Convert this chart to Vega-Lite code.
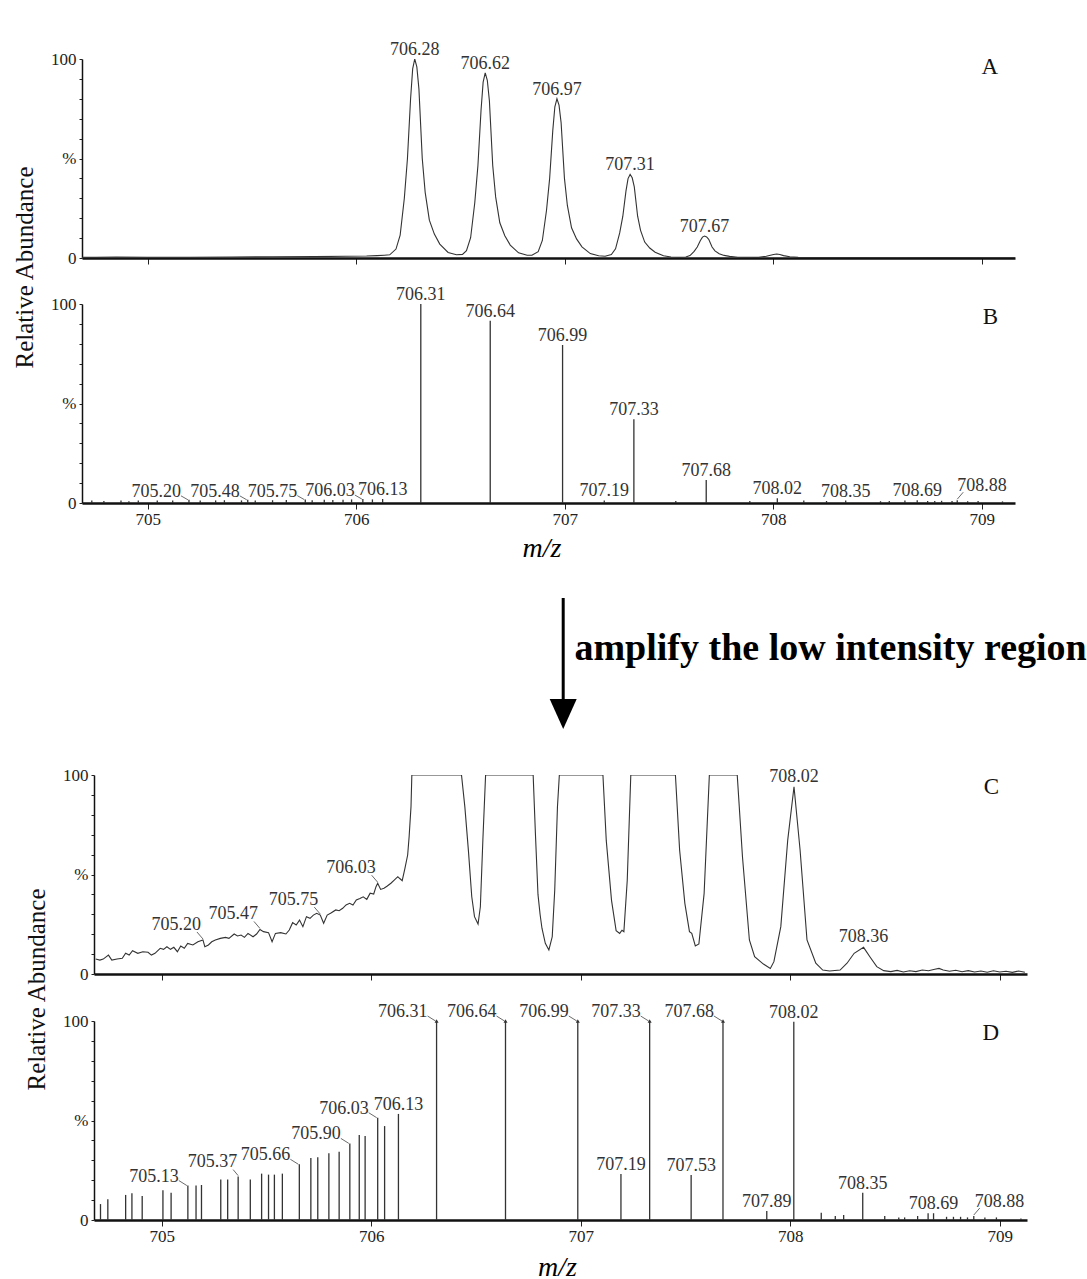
{
  "$schema": "https://vega.github.io/schema/vega-lite/v6.json",
  "background": "white",
  "padding": {"left": 12, "top": 41, "right": 3, "bottom": 3},
  "config": {
    "view": {"stroke": null},
    "font": "Liberation Serif",
    "title": {"font": "Liberation Serif", "fontSize": 23, "fontWeight": "normal", "color": "#111", "anchor": "end", "frame": "group", "offset": 0, "baseline": "middle"},
    "axis": {"labelFont": "Liberation Serif", "titleFont": "Liberation Serif", "labelColor": "#222", "titleColor": "#111", "domainColor": "#111", "tickColor": "#222", "grid": false, "labelFontSize": 17, "titleFontWeight": "normal", "labelOverlap": false},
    "axisX": {"domainWidth": 2.5, "tickSize": 6, "tickWidth": 1, "labelPadding": 2},
    "axisY": {"domainWidth": 1.5, "tickSize": 3, "tickWidth": 1, "labelPadding": 3}
  },
  "datasets": {
    "A": [
      {"mz":704.685,"int":0.3},{"mz":704.75,"int":0.3},{"mz":704.85,"int":0.5},{"mz":705.0,"int":0.4},{"mz":705.2,"int":0.4},{"mz":705.4,"int":0.5},{"mz":705.6,"int":0.6},{"mz":705.8,"int":0.7},{"mz":705.95,"int":0.9},{"mz":706.05,"int":1.0},{"mz":706.1,"int":1.2},{"mz":706.135,"int":1.4},{"mz":706.161,"int":1.6},{"mz":706.191,"int":4.5},{"mz":706.211,"int":11.5},{"mz":706.231,"int":30},{"mz":706.246,"int":50},{"mz":706.261,"int":80},{"mz":706.271,"int":95},{"mz":706.281,"int":100,"label":"706.28"},{"mz":706.291,"int":96},{"mz":706.301,"int":85},{"mz":706.317,"int":50},{"mz":706.331,"int":33},{"mz":706.351,"int":19},{"mz":706.375,"int":12},{"mz":706.401,"int":7},{"mz":706.441,"int":2.8},{"mz":706.481,"int":1.6},
      {"mz":706.51,"int":1.8},{"mz":706.529,"int":3.7},{"mz":706.549,"int":10.2},{"mz":706.569,"int":27.9},{"mz":706.584,"int":46.5},{"mz":706.599,"int":74.4},{"mz":706.609,"int":88.4},{"mz":706.619,"int":93,"label":"706.62"},{"mz":706.629,"int":89.3},{"mz":706.639,"int":79},{"mz":706.655,"int":46.5},{"mz":706.669,"int":30.7},{"mz":706.689,"int":17.7},{"mz":706.713,"int":11.2},{"mz":706.739,"int":6.5},{"mz":706.779,"int":2.6},{"mz":706.82,"int":1.4},
      {"mz":706.843,"int":1.4},{"mz":706.873,"int":3.2},{"mz":706.893,"int":8.8},{"mz":706.913,"int":24},{"mz":706.928,"int":40},{"mz":706.943,"int":64},{"mz":706.953,"int":76},{"mz":706.963,"int":80,"label":"706.97"},{"mz":706.973,"int":76.8},{"mz":706.983,"int":68},{"mz":706.999,"int":40},{"mz":707.013,"int":26.4},{"mz":707.033,"int":15.2},{"mz":707.057,"int":9.6},{"mz":707.083,"int":5.6},{"mz":707.123,"int":2.2},{"mz":707.163,"int":1.1},
      {"mz":707.194,"int":0.9},{"mz":707.224,"int":1.7},{"mz":707.244,"int":4.6},{"mz":707.264,"int":12.6},{"mz":707.279,"int":21},{"mz":707.294,"int":33.6},{"mz":707.304,"int":39.9},{"mz":707.314,"int":42,"label":"707.31"},{"mz":707.324,"int":40.3},{"mz":707.334,"int":35.7},{"mz":707.35,"int":21},{"mz":707.364,"int":13.9},{"mz":707.384,"int":8},{"mz":707.408,"int":5},{"mz":707.434,"int":2.9},{"mz":707.474,"int":1.1},{"mz":707.51,"int":0.5},
      {"mz":707.551,"int":0.4},{"mz":707.581,"int":0.5},{"mz":707.601,"int":1.2},{"mz":707.621,"int":3.3},{"mz":707.636,"int":5.5},{"mz":707.651,"int":8.8},{"mz":707.661,"int":10.5},{"mz":707.671,"int":11,"label":"707.67"},{"mz":707.681,"int":10.6},{"mz":707.691,"int":9.4},{"mz":707.707,"int":5.5},{"mz":707.721,"int":3.6},{"mz":707.741,"int":2.1},{"mz":707.765,"int":1.3},{"mz":707.791,"int":0.8},{"mz":707.831,"int":0.4},
      {"mz":707.93,"int":0.3},{"mz":707.967,"int":0.9},{"mz":707.987,"int":1.4},{"mz":708.002,"int":1.8},{"mz":708.017,"int":2.0},{"mz":708.032,"int":1.8},{"mz":708.05,"int":1.2},{"mz":708.08,"int":0.6},{"mz":708.12,"int":0.3},{"mz":708.18,"int":0.2},{"mz":708.4,"int":0.2},{"mz":708.6,"int":0.1},{"mz":708.8,"int":0.2},{"mz":709.0,"int":0.1},{"mz":709.16,"int":0.1}
    ],
    "B": [
      {"mz":704.732,"int":1.2},{"mz":704.79,"int":1.0},{"mz":704.872,"int":1.2},{"mz":704.91,"int":0.9},{"mz":704.955,"int":1.2},{"mz":705.046,"int":1.3},{"mz":705.12,"int":1.2},{"mz":705.198,"int":1.6,"label":"705.20"},{"mz":705.252,"int":1.2},{"mz":705.326,"int":1.3},{"mz":705.368,"int":1.4},{"mz":705.45,"int":1.3},{"mz":705.48,"int":1.6,"label":"705.48"},{"mz":705.516,"int":1.3},{"mz":705.599,"int":1.4},{"mz":705.665,"int":1.5},{"mz":705.756,"int":1.7,"label":"705.75"},{"mz":705.789,"int":1.4},{"mz":705.847,"int":1.6},{"mz":705.888,"int":1.5},{"mz":705.937,"int":1.6},{"mz":705.978,"int":1.8},{"mz":706.032,"int":2.0,"label":"706.03"},{"mz":706.078,"int":1.8},{"mz":706.127,"int":2.0,"label":"706.13"},
      {"mz":706.31,"int":100,"label":"706.31"},{"mz":706.643,"int":91.6,"label":"706.64"},{"mz":706.99,"int":79.4,"label":"706.99"},{"mz":707.19,"int":1.3,"label":"707.19"},{"mz":707.332,"int":42.1,"label":"707.33"},{"mz":707.533,"int":1.0},{"mz":707.679,"int":11.6,"label":"707.68"},{"mz":707.888,"int":1.0},{"mz":708.02,"int":2.4,"label":"708.02"},{"mz":708.147,"int":1.2},{"mz":708.256,"int":1.0},{"mz":708.348,"int":1.2,"label":"708.35"},{"mz":708.515,"int":0.9},{"mz":708.557,"int":1.0},{"mz":708.632,"int":1.2},{"mz":708.691,"int":1.4,"label":"708.69"},{"mz":708.741,"int":1.0},{"mz":708.775,"int":1.0},{"mz":708.808,"int":1.1},{"mz":708.858,"int":1.0},{"mz":708.883,"int":1.4,"label":"708.88"},{"mz":708.933,"int":0.9},{"mz":708.983,"int":1.0},{"mz":709.1,"int":0.8}
    ],
    "C": [
      {"mz":704.685,"int":7.5},{"mz":704.705,"int":7.0},{"mz":704.721,"int":7.5},{"mz":704.746,"int":9.5},{"mz":704.762,"int":7.0},{"mz":704.787,"int":7.5},{"mz":704.812,"int":7.9},{"mz":704.828,"int":10.4},{"mz":704.845,"int":9.5},{"mz":704.861,"int":11.7},{"mz":704.886,"int":10.4},{"mz":704.91,"int":11.2},{"mz":704.935,"int":10.9},{"mz":704.951,"int":9.5},{"mz":704.968,"int":10.4},{"mz":704.993,"int":12.9},{"mz":705.009,"int":12.4},{"mz":705.025,"int":13.7},{"mz":705.042,"int":12.4},{"mz":705.058,"int":13.4},{"mz":705.075,"int":11.2},{"mz":705.091,"int":14.1},{"mz":705.108,"int":12.9},{"mz":705.124,"int":15.4},{"mz":705.149,"int":14.6},{"mz":705.173,"int":16.2},{"mz":705.197,"int":17.1,"label":"705.20"},{"mz":705.206,"int":13.7},{"mz":705.223,"int":14.6},{"mz":705.239,"int":16.2},{"mz":705.256,"int":17.1},{"mz":705.28,"int":17.9},{"mz":705.305,"int":18.4},{"mz":705.321,"int":17.9},{"mz":705.346,"int":20.1},{"mz":705.362,"int":19.1},{"mz":705.379,"int":19.6},{"mz":705.395,"int":18.4},{"mz":705.412,"int":20.4},{"mz":705.436,"int":18.7},{"mz":705.453,"int":20.1},{"mz":705.469,"int":22.4,"label":"705.47"},{"mz":705.486,"int":21.3},{"mz":705.51,"int":20.8},{"mz":705.527,"int":16.2},{"mz":705.543,"int":20.4},{"mz":705.568,"int":20.8},{"mz":705.593,"int":20.1},{"mz":705.609,"int":22.1},{"mz":705.625,"int":25.8},{"mz":705.642,"int":24.6},{"mz":705.658,"int":27.1},{"mz":705.674,"int":23.8},{"mz":705.691,"int":28.8},{"mz":705.708,"int":28.0},{"mz":705.724,"int":29.6},{"mz":705.74,"int":30.5},{"mz":705.757,"int":29.6,"label":"705.75"},{"mz":705.773,"int":25.5},{"mz":705.79,"int":29.6},{"mz":705.806,"int":30.5},{"mz":705.831,"int":32.2},{"mz":705.847,"int":31.8},{"mz":705.864,"int":33.0},{"mz":705.88,"int":34.7},{"mz":705.897,"int":35.5},{"mz":705.913,"int":34.7},{"mz":705.929,"int":37.2},{"mz":705.946,"int":38.0},{"mz":705.962,"int":38.8},{"mz":705.979,"int":37.5},{"mz":705.995,"int":40.6},{"mz":706.012,"int":40.2},{"mz":706.023,"int":43.9},{"mz":706.031,"int":45.6,"label":"706.03"},{"mz":706.045,"int":42.5},{"mz":706.061,"int":43.1},{"mz":706.077,"int":44.2},{"mz":706.094,"int":45.6},{"mz":706.11,"int":47.2},{"mz":706.127,"int":48.9},{"mz":706.135,"int":48.1},{"mz":706.148,"int":46.9},{"mz":706.161,"int":53.1},{"mz":706.174,"int":59.8},{"mz":706.181,"int":69.0},{"mz":706.19,"int":84.1},{"mz":706.194,"int":100},
      {"mz":706.431,"int":100},{"mz":706.447,"int":84},{"mz":706.464,"int":62},{"mz":706.48,"int":38.8},{"mz":706.493,"int":28.8},{"mz":706.51,"int":25.1},{"mz":706.521,"int":33.8},{"mz":706.533,"int":67.3},{"mz":706.546,"int":100},
      {"mz":706.773,"int":100},{"mz":706.784,"int":70},{"mz":706.796,"int":40},{"mz":706.806,"int":30},{"mz":706.815,"int":23},{"mz":706.831,"int":15.4},{"mz":706.848,"int":12.1},{"mz":706.864,"int":18.7},{"mz":706.876,"int":42.2},{"mz":706.889,"int":84},{"mz":706.898,"int":100},
      {"mz":707.106,"int":100},{"mz":707.122,"int":67},{"mz":707.147,"int":37},{"mz":707.169,"int":21.8},{"mz":707.186,"int":20.4},{"mz":707.197,"int":22},{"mz":707.206,"int":21.3},{"mz":707.222,"int":47},{"mz":707.239,"int":100},
      {"mz":707.452,"int":100},{"mz":707.472,"int":62.3},{"mz":707.497,"int":35.5},{"mz":707.519,"int":21.3},{"mz":707.53,"int":20.4},{"mz":707.547,"int":14.1},{"mz":707.564,"int":15.1},{"mz":707.589,"int":40.5},{"mz":707.614,"int":100},
      {"mz":707.747,"int":100},{"mz":707.772,"int":58.9},{"mz":707.805,"int":17.1},{"mz":707.83,"int":8.7},{"mz":707.872,"int":5.0},{"mz":707.905,"int":2.8},{"mz":707.922,"int":6.2},{"mz":707.955,"int":23.8},{"mz":707.988,"int":67.3},{"mz":708.018,"int":94.1,"label":"708.02"},{"mz":708.047,"int":62.3},{"mz":708.08,"int":17.1},{"mz":708.122,"int":5.4},{"mz":708.155,"int":2.0},{"mz":708.188,"int":1.5},{"mz":708.238,"int":2.0},{"mz":708.271,"int":5.4},{"mz":708.305,"int":10.4},{"mz":708.35,"int":13.4,"label":"708.36"},{"mz":708.38,"int":8.7},{"mz":708.413,"int":3.7},{"mz":708.446,"int":1.7},{"mz":708.48,"int":1.2},{"mz":708.51,"int":1.8},{"mz":708.54,"int":1.0},{"mz":708.57,"int":1.6},{"mz":708.6,"int":1.2},{"mz":708.63,"int":2.0},{"mz":708.66,"int":1.6},{"mz":708.69,"int":2.4},{"mz":708.71,"int":2.8},{"mz":708.73,"int":2.0},{"mz":708.76,"int":1.4},{"mz":708.79,"int":1.9},{"mz":708.82,"int":1.1},{"mz":708.85,"int":1.7},{"mz":708.88,"int":1.0},{"mz":708.91,"int":1.5},{"mz":708.94,"int":0.9},{"mz":708.97,"int":1.6},{"mz":709.0,"int":1.0},{"mz":709.03,"int":1.4},{"mz":709.06,"int":0.8},{"mz":709.09,"int":1.5},{"mz":709.12,"int":0.9}
    ],
    "D": [
      {"mz":704.708,"int":8.0},{"mz":704.743,"int":10.4},{"mz":704.828,"int":12.6},{"mz":704.858,"int":13.4},{"mz":704.907,"int":12.1},{"mz":705.006,"int":14.9},{"mz":705.045,"int":13.7},{"mz":705.125,"int":17.3,"label":"705.13"},{"mz":705.164,"int":17.3},{"mz":705.19,"int":17.6},{"mz":705.282,"int":20.4},{"mz":705.315,"int":20.4},{"mz":705.365,"int":21.8,"label":"705.37"},{"mz":705.423,"int":20.4},{"mz":705.477,"int":23.3},{"mz":705.51,"int":22.8},{"mz":705.538,"int":22.8},{"mz":705.576,"int":23.3},{"mz":705.657,"int":28.0,"label":"705.66"},{"mz":705.712,"int":31.2},{"mz":705.745,"int":31.5},{"mz":705.798,"int":33.5},{"mz":705.847,"int":34.3},{"mz":705.898,"int":38.5,"label":"705.90"},{"mz":705.943,"int":42.7},{"mz":705.971,"int":42.2},{"mz":706.031,"int":51.4,"label":"706.03"},{"mz":706.064,"int":47.2},{"mz":706.13,"int":53.3,"label":"706.13"},
      {"mz":706.312,"int":100,"label":"706.31","clipped":true},{"mz":706.641,"int":100,"label":"706.64","clipped":true},{"mz":706.986,"int":100,"label":"706.99","clipped":true},{"mz":707.192,"int":23.1,"label":"707.19"},{"mz":707.329,"int":100,"label":"707.33","clipped":true},{"mz":707.527,"int":22.6,"label":"707.53"},{"mz":707.679,"int":100,"label":"707.68","clipped":true},{"mz":707.888,"int":4.5,"label":"707.89"},{"mz":708.017,"int":99.6,"label":"708.02"},{"mz":708.148,"int":3.7},{"mz":708.215,"int":2.0},{"mz":708.255,"int":2.5},{"mz":708.346,"int":13.7,"label":"708.35"},{"mz":708.451,"int":2.0},{"mz":708.518,"int":1.3},{"mz":708.546,"int":1.3},{"mz":708.608,"int":2.0},{"mz":708.658,"int":3.4},{"mz":708.684,"int":3.4,"label":"708.69"},{"mz":708.746,"int":1.6},{"mz":708.779,"int":1.6},{"mz":708.813,"int":1.6},{"mz":708.846,"int":1.3},{"mz":708.876,"int":2.0,"label":"708.88"},{"mz":708.929,"int":1.3},{"mz":708.984,"int":1.3},{"mz":709.101,"int":0.8}
    ]
  },
  "spacing": 46,
  "bounds": "flush",
  "resolve": {"scale": {"x": "independent", "y": "independent"}},
  "vconcat": [
    {
      "width": 933, "height": 199,
      "title": {"text": "A", "dx": -17, "dy": 42},
      "data": {"name": "A"},
      "encoding": {
        "x": {"field": "mz", "type": "quantitative", "scale": {"domain": [704.685, 709.16], "nice": false, "zero": false}, "axis": {"values": [705,706,707,708,709], "labels": false, "title": null}},
        "y": {"field": "int", "type": "quantitative", "scale": {"domain": [0, 100], "nice": false}, "axis": {"values": [0,10,20,30,40,50,60,70,80,90,100], "labelExpr": "datum.value == 100 ? '100' : (datum.value == 50 ? '%' : (datum.value == 0 ? '0' : ''))", "title": "Relative Abundance", "titleX": -57.5, "titleY": 208, "titleAngle": -90, "titleAlign": "center", "titleBaseline": "middle", "titleFontSize": 25}}
      },
      "layer": [
        {"mark": {"type": "line", "color": "#333", "strokeWidth": 1.1, "clip": true}},
        {"transform": [{"filter": "isValid(datum.label)"}], "mark": {"type": "text", "baseline": "alphabetic", "align": "center", "dy": -4, "fontSize": 18, "color": "#333", "font": "Liberation Serif"}, "encoding": {"text": {"field": "label"}}}
      ]
    },
    {
      "width": 933, "height": 199,
      "title": {"text": "B", "dx": -17, "dy": 47},
      "data": {"name": "B"},
      "encoding": {
        "x": {"field": "mz", "type": "quantitative", "scale": {"domain": [704.685, 709.16], "nice": false, "zero": false}, "axis": {"values": [705,706,707,708,709], "title": "m/z", "titleFontStyle": "italic", "titleFontSize": 28, "titleX": 459.5, "titleY": 45, "titleAlign": "center", "titleBaseline": "middle", "titleColor": "#000"}},
        "y": {"field": "int", "type": "quantitative", "scale": {"domain": [0, 100], "nice": false}, "axis": {"values": [0,10,20,30,40,50,60,70,80,90,100], "labelExpr": "datum.value == 100 ? '100' : (datum.value == 50 ? '%' : (datum.value == 0 ? '0' : ''))", "title": null}}
      },
      "layer": [
        {"mark": {"type": "rule", "color": "#333", "strokeWidth": 1.3}, "encoding": {"y2": {"datum": 0}}},
        {"transform": [{"filter": "isValid(datum.label) && indexof(['705.20','705.48','705.75','706.03','708.88'], datum.label) < 0"}], "mark": {"type": "text", "baseline": "alphabetic", "align": "center", "dy": -4, "fontSize": 18, "color": "#333", "font": "Liberation Serif"}, "encoding": {"text": {"field": "label"}}},
        {"transform": [{"filter": "indexof(['705.20','705.48','705.75','706.03'], datum.label) >= 0"}], "mark": {"type": "text", "baseline": "alphabetic", "align": "right", "dx": -8, "dy": -3, "fontSize": 18, "color": "#333", "font": "Liberation Serif"}, "encoding": {"text": {"field": "label"}}},
        {"transform": [{"filter": "indexof(['705.20','705.48','705.75','706.03'], datum.label) >= 0"}], "mark": {"type": "rule", "color": "#444", "strokeWidth": 0.8, "xOffset": -8, "yOffset": -4, "x2Offset": -1, "y2Offset": 0}, "encoding": {"x2": {"field": "mz"}, "y2": {"field": "int"}}},
        {"transform": [{"filter": "datum.label == '708.88'"}], "mark": {"type": "text", "baseline": "alphabetic", "align": "left", "dx": 0, "dy": -9, "fontSize": 18, "color": "#333", "font": "Liberation Serif"}, "encoding": {"text": {"field": "label"}}},
        {"transform": [{"filter": "datum.label == '708.88'"}], "mark": {"type": "rule", "color": "#444", "strokeWidth": 0.8, "xOffset": 0, "yOffset": -1, "x2Offset": 6, "y2Offset": -8}, "encoding": {"x2": {"field": "mz"}, "y2": {"field": "int"}}}
      ]
    },
    {
      "width": 933, "height": 180,
      "data": {"values": [{}]},
      "layer": [
        {"mark": {"type": "rule", "strokeWidth": 3, "color": "#000"}, "encoding": {"x": {"datum": 706.993, "type": "quantitative", "scale": {"domain": [704.685, 709.16], "nice": false, "zero": false}, "axis": null}, "y": {"datum": 131, "type": "quantitative", "scale": {"domain": [0, 180], "nice": false}, "axis": null}, "y2": {"datum": 18}}},
        {"mark": {"type": "point", "shape": "M -0.9 -1 L 0.9 -1 L 0 1 Z", "size": 900, "filled": true, "color": "#000", "opacity": 1}, "encoding": {"x": {"datum": 706.993, "type": "quantitative"}, "y": {"datum": 15, "type": "quantitative"}}},
        {"mark": {"type": "text", "text": "amplify the low intensity region", "font": "Liberation Serif", "fontWeight": "bold", "fontSize": 38, "align": "left", "baseline": "alphabetic", "color": "#000"}, "encoding": {"x": {"datum": 707.047, "type": "quantitative"}, "y": {"datum": 69, "type": "quantitative"}}}
      ]
    },
    {
      "spacing": 11,
      "bounds": "flush",
      "resolve": {"scale": {"x": "independent", "y": "independent"}},
      "hconcat": [
        {"width": 1, "height": 1, "data": {"values": [{}]}, "mark": {"type": "point", "opacity": 0}, "encoding": {}},
        {
          "spacing": 47,
          "bounds": "flush",
          "resolve": {"scale": {"x": "independent", "y": "independent"}},
          "vconcat": [
            {
              "width": 933, "height": 199,
              "title": {"text": "C", "dx": -28, "dy": 37},
              "data": {"name": "C"},
              "encoding": {
                "x": {"field": "mz", "type": "quantitative", "scale": {"domain": [704.677, 709.13], "nice": false, "zero": false}, "axis": {"values": [705,706,707,708,709], "labels": false, "title": null}},
                "y": {"field": "int", "type": "quantitative", "scale": {"domain": [0, 100], "nice": false}, "axis": {"values": [0,10,20,30,40,50,60,70,80,90,100], "labelExpr": "datum.value == 100 ? '100' : (datum.value == 50 ? '%' : (datum.value == 0 ? '0' : ''))", "title": "Relative Abundance", "titleX": -58, "titleY": 214, "titleAngle": -90, "titleAlign": "center", "titleBaseline": "middle", "titleFontSize": 25}}
              },
              "layer": [
                {"mark": {"type": "line", "color": "#333", "strokeWidth": 1.1, "clip": true}},
                {"transform": [{"filter": "datum.label == '708.02' || datum.label == '708.36'"}], "mark": {"type": "text", "baseline": "alphabetic", "align": "center", "dy": -5, "fontSize": 18, "color": "#333", "font": "Liberation Serif"}, "encoding": {"text": {"field": "label"}}},
                {"transform": [{"filter": "indexof(['705.20','705.47','705.75','706.03'], datum.label) >= 0"}], "mark": {"type": "text", "baseline": "alphabetic", "align": "right", "dx": -2, "dy": -10, "fontSize": 18, "color": "#333", "font": "Liberation Serif"}, "encoding": {"text": {"field": "label"}}},
                {"transform": [{"filter": "indexof(['705.20','705.47','705.75','706.03'], datum.label) >= 0"}], "mark": {"type": "rule", "color": "#444", "strokeWidth": 0.8, "xOffset": -6, "yOffset": -8, "x2Offset": 0, "y2Offset": -1}, "encoding": {"x2": {"field": "mz"}, "y2": {"field": "int"}}}
              ]
            },
            {
              "width": 933, "height": 199,
              "title": {"text": "D", "dx": -28, "dy": 46},
              "data": {"name": "D"},
              "encoding": {
                "x": {"field": "mz", "type": "quantitative", "scale": {"domain": [704.677, 709.13], "nice": false, "zero": false}, "axis": {"values": [705,706,707,708,709], "title": "m/z", "titleFontStyle": "italic", "titleFontSize": 28, "titleX": 463, "titleY": 47, "titleAlign": "center", "titleBaseline": "middle", "titleColor": "#000"}},
                "y": {"field": "int", "type": "quantitative", "scale": {"domain": [0, 100], "nice": false}, "axis": {"values": [0,10,20,30,40,50,60,70,80,90,100], "labelExpr": "datum.value == 100 ? '100' : (datum.value == 50 ? '%' : (datum.value == 0 ? '0' : ''))", "title": null}}
              },
              "layer": [
                {"mark": {"type": "rule", "color": "#333", "strokeWidth": 1.3}, "encoding": {"y2": {"datum": 0}}},
                {"transform": [{"filter": "datum.clipped == true"}], "mark": {"type": "point", "shape": "triangle-up", "size": 16, "filled": true, "color": "#333", "opacity": 1}},
                {"transform": [{"filter": "isValid(datum.label) && indexof(['705.13','705.66','705.90','706.03','706.31','706.64','706.99','707.33','707.68','705.37','708.88'], datum.label) < 0"}], "mark": {"type": "text", "baseline": "alphabetic", "align": "center", "dy": -4, "fontSize": 18, "color": "#333", "font": "Liberation Serif"}, "encoding": {"text": {"field": "label"}}},
                {"transform": [{"filter": "indexof(['705.13','705.66','705.90','706.03','706.31','706.64','706.99','707.33','707.68'], datum.label) >= 0"}], "mark": {"type": "text", "baseline": "alphabetic", "align": "right", "dx": -9, "dy": -4, "fontSize": 18, "color": "#333", "font": "Liberation Serif"}, "encoding": {"text": {"field": "label"}}},
                {"transform": [{"filter": "indexof(['705.13','705.66','705.90','706.03','706.31','706.64','706.99','707.33','707.68'], datum.label) >= 0"}], "mark": {"type": "rule", "color": "#444", "strokeWidth": 0.8, "xOffset": -9, "yOffset": -5, "x2Offset": -1, "y2Offset": 0}, "encoding": {"x2": {"field": "mz"}, "y2": {"field": "int"}}},
                {"transform": [{"filter": "datum.label == '705.37'"}], "mark": {"type": "text", "baseline": "alphabetic", "align": "right", "dx": -1, "dy": -10, "fontSize": 18, "color": "#333", "font": "Liberation Serif"}, "encoding": {"text": {"field": "label"}}},
                {"transform": [{"filter": "datum.label == '705.37'"}], "mark": {"type": "rule", "color": "#444", "strokeWidth": 0.8, "xOffset": -5, "yOffset": -7, "x2Offset": 0, "y2Offset": -1}, "encoding": {"x2": {"field": "mz"}, "y2": {"field": "int"}}},
                {"transform": [{"filter": "datum.label == '708.88'"}], "mark": {"type": "text", "baseline": "alphabetic", "align": "left", "dx": 1, "dy": -9, "fontSize": 18, "color": "#333", "font": "Liberation Serif"}, "encoding": {"text": {"field": "label"}}},
                {"transform": [{"filter": "datum.label == '708.88'"}], "mark": {"type": "rule", "color": "#444", "strokeWidth": 0.8, "xOffset": 0, "yOffset": -1, "x2Offset": 6, "y2Offset": -8}, "encoding": {"x2": {"field": "mz"}, "y2": {"field": "int"}}}
              ]
            }
          ]
        }
      ]
    }
  ]
}
